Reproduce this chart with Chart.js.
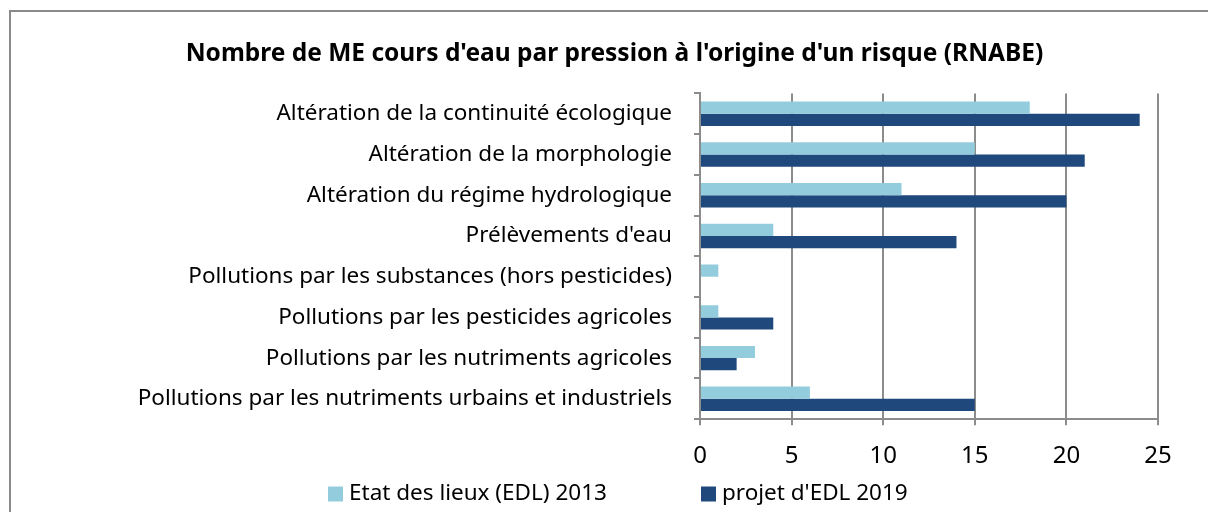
<!DOCTYPE html>
<html>
<head>
<meta charset="utf-8">
<script src="https://cdn.jsdelivr.net/npm/chart.js@4"></script>
<style>
  html, body { margin: 0; padding: 0; background: #fff; }
  #wrap { width: 1208px; height: 512px; position: relative; }
</style>
</head>
<body>
<div id="wrap"><canvas id="chartBar"></canvas></div>
<script>
const categories = [
  "Altération de la continuité écologique",
  "Altération de la morphologie",
  "Altération du régime hydrologique",
  "Prélèvements d'eau",
  "Pollutions par les substances (hors pesticides)",
  "Pollutions par les pesticides agricoles",
  "Pollutions par les nutriments agricoles",
  "Pollutions par les nutriments urbains et industriels",
];
const edl2013 = [18, 15, 11, 4, 1, 1, 3, 6];
const edl2019 = [24, 21, 20, 14, 0, 4, 2, 15];
const xTicks = [0, 5, 10, 15, 20, 25];

const FONT = "Noto Sans";
const gridGray = "#8c8c8c";

// outer frame of the chart object
const frame = {
  id: "frame",
  beforeDraw(chart) {
    const ctx = chart.ctx;
    ctx.save();
    ctx.strokeStyle = "#8a8a8a";
    ctx.lineWidth = 2;
    ctx.strokeRect(10, 11, 1300, 600);
    ctx.restore();
  },
};

// legend drawn by hand: the built-in one uses the same padding for rows and gaps
const wideLegend = {
  id: "wideLegend",
  afterDraw(chart) {
    const ctx = chart.ctx;
    const starts = [328, 701];
    const y = 494;
    ctx.save();
    ctx.font = "22.5px '" + FONT + "'";
    ctx.textBaseline = "middle";
    ctx.fillStyle = "#000";
    chart.data.datasets.forEach((ds, i) => {
      ctx.fillStyle = ds.backgroundColor;
      ctx.fillRect(starts[i], y - 7.5, 15, 15);
      ctx.fillStyle = "#000";
      ctx.fillText(ds.label, starts[i] + 21, y);
    });
    ctx.restore();
  },
};

new Chart(document.getElementById("chartBar"), {
  type: "bar",
  data: {
    labels: categories,
    datasets: [
      {
        label: "Etat des lieux (EDL) 2013",
        data: edl2013,
        backgroundColor: "#93cddd",
        barPercentage: 1,
        categoryPercentage: 0.6,
      },
      {
        label: "projet d'EDL 2019",
        data: edl2019,
        backgroundColor: "#1f497d",
        barPercentage: 1,
        categoryPercentage: 0.6,
      },
    ],
  },
  options: {
    indexAxis: "y",
    responsive: true,
    maintainAspectRatio: false,
    animation: false,
    layout: {
      padding: { top: 0, right: 50, bottom: 24, left: 71 },
    },
    scales: {
      x: {
        min: 0,
        max: 25,
        afterBuildTicks: (scale) => {
          scale.ticks = xTicks.map((v) => ({ value: v }));
        },
        grid: {
          color: gridGray,
          lineWidth: 2,
          tickLength: 6,
          drawTicks: true,
        },
        border: { color: gridGray, width: 2 },
        ticks: {
          color: "#000",
          padding: 17,
          font: { family: FONT, size: 24 },
        },
      },
      y: {
        afterFit: (scale) => {
          scale.width = 629;
        },
        grid: {
          drawOnChartArea: false,
          drawTicks: true,
          tickLength: 6,
          color: gridGray,
          lineWidth: 2,
        },
        border: { color: gridGray, width: 2 },
        ticks: {
          color: "#000",
          padding: 22,
          font: { family: FONT, size: 22.5 },
        },
      },
    },
    plugins: {
      title: {
        display: true,
        text: "Nombre de ME cours d'eau par pression à l'origine d'un risque (RNABE)",
        color: "#000",
        font: { family: FONT, size: 24.5, weight: "bold" },
        padding: { top: 39, bottom: 25 },
      },
      legend: { display: false },
      tooltip: { enabled: false },
    },
  },
  plugins: [frame, wideLegend],
});
</script>
</body>
</html>
